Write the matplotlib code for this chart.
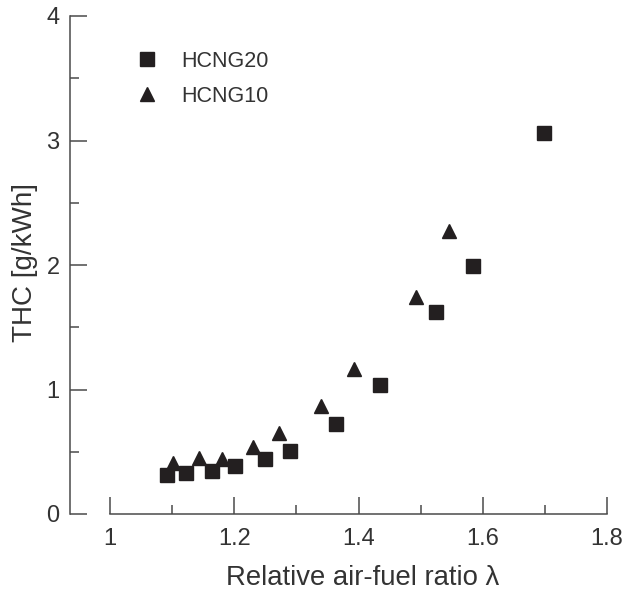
import numpy as np
import matplotlib
matplotlib.use('Agg')
import matplotlib.pyplot as plt
from matplotlib.ticker import MultipleLocator

plt.rcParams['font.family'] = ['Liberation Sans', 'DejaVu Sans']

# HCNG20 (squares)
lam_20 = [1.092, 1.122, 1.164, 1.201, 1.250, 1.290, 1.363, 1.434, 1.524, 1.584, 1.699]
thc_20 = [0.316, 0.327, 0.348, 0.388, 0.44, 0.51, 0.72, 1.04, 1.626, 1.99, 3.06]

# HCNG10 (triangles)
lam_10 = [1.102, 1.143, 1.181, 1.230, 1.272, 1.340, 1.393, 1.493, 1.545]
thc_10 = [0.41, 0.45, 0.445, 0.54, 0.65, 0.868, 1.164, 1.744, 2.27]

ink = '#231f20'
axcol = '#4a4a4a'
txt = '#333333'

fig = plt.figure(figsize=(6.28, 5.94), dpi=100)
ax = fig.add_axes([70/628, 1 - 514/594, (607 - 70)/628, (514 - 16)/594])

ax.plot(lam_20, thc_20, 's', ms=9.6, color=ink, mec=ink, label='HCNG20')
ax.plot(lam_10, thc_10, '^', ms=10, color=ink, mec=ink, label='HCNG10')

ax.set_xlim(0.9356, 1.8)
ax.set_ylim(0, 4)
ax.spines['top'].set_visible(False)
ax.spines['right'].set_visible(False)
ax.spines['bottom'].set_bounds(1, 1.8)
for s in ['left', 'bottom']:
    ax.spines[s].set_color(axcol)
    ax.spines[s].set_linewidth(1.1)

ax.yaxis.set_major_locator(MultipleLocator(1))
ax.yaxis.set_minor_locator(MultipleLocator(0.5))
ax.set_xticks([1, 1.2, 1.4, 1.6, 1.8])
ax.set_xticklabels(['1', '1.2', '1.4', '1.6', '1.8'])
ax.set_xticks([1.1, 1.3, 1.5, 1.7], minor=True)
ax.tick_params(which='both', direction='in', color=axcol, width=1.1, labelcolor=txt, labelsize=17)
ax.tick_params(which='major', length=12)
ax.tick_params(which='minor', length=6.5)
ax.tick_params(axis='x', pad=10)
ax.tick_params(axis='y', pad=7.5)

ax.set_xlabel('Relative air-fuel ratio λ', fontsize=19.8, color=txt)
ax.set_ylabel('THC [g/kWh]', fontsize=20, color=txt)
ax.xaxis.set_label_coords(0.5456, -0.1024)
ax.yaxis.set_label_coords(-0.0596, 0.506)

leg = ax.legend(loc='upper left', bbox_to_anchor=(0.0864, 0.947), frameon=False, fontsize=15.5,
                handletextpad=0.62, labelspacing=0.65, borderaxespad=0)
for t in leg.get_texts():
    t.set_color(txt)

fig.savefig('out.png', dpi=100)
